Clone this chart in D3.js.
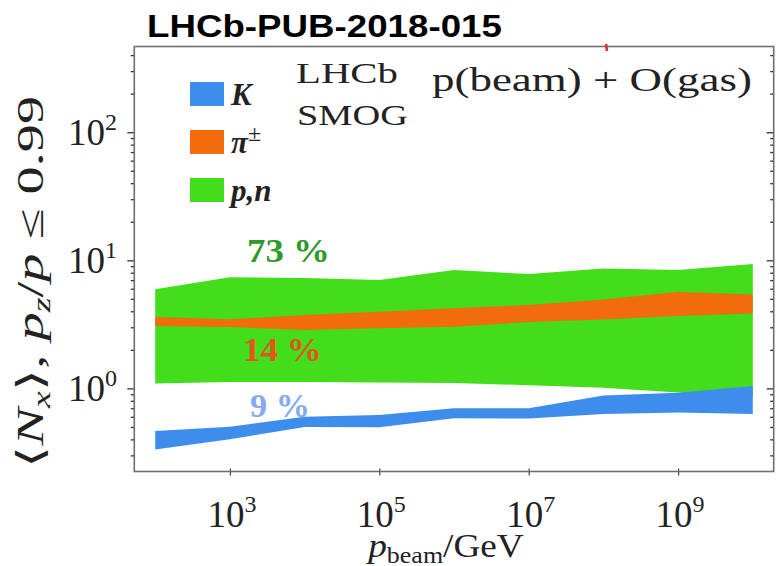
<!DOCTYPE html>
<html><head><meta charset="utf-8">
<script src="https://cdn.jsdelivr.net/npm/d3@7"></script>
<style>body{margin:0;background:#fff}</style>
</head><body>
<svg id="chart" width="781" height="566"></svg>
<script>
// Beam momentum grid (GeV), one point per decade
const pBeam = [1e2, 1e3, 1e4, 1e5, 1e6, 1e7, 1e8, 1e9, 1e10];
// Nucleons (p, n): band lower / upper edge of <N_x>
const nucleonLow  = [1.09, 1.12, 1.12, 1.11, 1.10, 1.06, 1.01, 0.93, 0.86];
const nucleonHigh = [5.94, 7.37, 7.27, 7.02, 8.40, 7.82, 8.63, 8.40, 9.36];
// Charged pions
const pionLow  = [3.07, 3.02, 2.86, 2.95, 3.03, 3.30, 3.45, 3.67, 3.84];
const pionHigh = [3.61, 3.46, 3.74, 3.97, 4.22, 4.48, 4.94, 5.66, 5.41];
// Kaons
const kaonLow  = [0.333, 0.401, 0.500, 0.497, 0.584, 0.582, 0.631, 0.648, 0.631];
const kaonHigh = [0.465, 0.502, 0.601, 0.620, 0.699, 0.699, 0.880, 0.926, 1.044];

const xTickValues = [1e3, 1e5, 1e7, 1e9];
const yMajorValues = [1, 10, 100];
const shareLabels = ["73 %", "14 %", "9 %"];
const legendNames = ["K", "π", "p,n"];

const colors = { nucleon: "#43dd1b", pion: "#f26b0c", kaon: "#3d8ded" };
const serif = "'Liberation Serif','Times New Roman',serif";
const sans = "'Liberation Sans',Arial,sans-serif";

const svg = d3.select("#chart");
const L = 134.3, R = 773.7, T = 46.5, B = 471.5;

const x = d3.scaleLog().domain([10 ** 1.72, 10 ** 10.28]).range([L, R]);
const y = d3.scaleLog().domain([0.2245, 467]).range([B, T]);

// stretch a text element horizontally to a given width, keeping its left edge
function fitLeft(sel, width) {
  const n = sel.node(), bb = n.getBBox();
  const s = width / bb.width;
  sel.attr("transform", `translate(${bb.x},0) scale(${s},1) translate(${-bb.x},0)`);
}

// bands
function band(lo, hi, color) {
  const rows = pBeam.map((p, i) => ({ p, lo: lo[i], hi: hi[i] }));
  const area = d3.area().x(d => x(d.p)).y0(d => y(d.lo)).y1(d => y(d.hi));
  svg.append("path").datum(rows).attr("d", area).attr("fill", color);
}
band(nucleonLow, nucleonHigh, colors.nucleon);
band(pionLow, pionHigh, colors.pion);
band(kaonLow, kaonHigh, colors.kaon);

// axes: left (outward ticks), right (inward ticks), bottom
const yAll = y.ticks(40).filter(v => v >= 0.2245 && v <= 467);
function yAxisTicks(axisGen, xpos, majorLen, minorLen) {
  const gMaj = svg.append("g").attr("transform", `translate(${xpos},0)`)
    .call(axisGen(y).tickValues(yMajorValues).tickSize(majorLen).tickFormat(""));
  const gMin = svg.append("g").attr("transform", `translate(${xpos},0)`)
    .call(axisGen(y).tickValues(yAll.filter(v => !yMajorValues.includes(v))).tickSize(minorLen).tickFormat(""));
  [gMaj, gMin].forEach(g => {
    g.select(".domain").remove();
    g.selectAll("line").attr("stroke", "#333").attr("stroke-width", 1.3);
  });
}
yAxisTicks(d3.axisLeft, L, 7, 3.5);
yAxisTicks(d3.axisRight, R, -7, -3.5);

const gx = svg.append("g").attr("transform", `translate(0,${B - 3})`)
  .call(d3.axisBottom(x).tickValues(xTickValues).tickSize(7).tickFormat(""));
gx.select(".domain").remove();
gx.selectAll("line").attr("stroke", "#444").attr("stroke-width", 1.2);

// frame
svg.append("rect").attr("x", L).attr("y", T).attr("width", R - L).attr("height", B - T)
  .attr("fill", "none").attr("stroke", "#6e6e6e").attr("stroke-width", 1.6);

// power-of-ten labels
function powerLabel(g, v, xp, yp, anchor) {
  const t = g.append("text").attr("x", xp).attr("y", yp).attr("text-anchor", anchor)
    .attr("font-family", serif).attr("font-size", 37).attr("fill", "#222");
  t.append("tspan").text("10");
  t.append("tspan").attr("dy", -15).attr("font-size", 24).text(Math.round(Math.log10(v)));
  return t;
}
const lab = svg.append("g");
yMajorValues.forEach(v => powerLabel(lab, v, 117, y(v) + 13, "end"));
xTickValues.forEach(v => powerLabel(lab, v, x(v) + 2, 527, "middle"));

// axis titles
const xt = svg.append("text").attr("x", 368).attr("y", 557)
  .attr("font-family", serif).attr("font-size", 33).attr("fill", "#222");
xt.append("tspan").attr("font-style", "italic").text("p");
xt.append("tspan").attr("dy", 6).attr("font-size", 23).text("beam");
xt.append("tspan").attr("dy", -6).text("/GeV");
fitLeft(xt, 158);

const ytG = svg.append("g").attr("transform", "translate(43,282) rotate(-90)");
const yt = ytG.append("text").attr("x", 0).attr("y", 0).attr("text-anchor", "middle")
  .attr("font-family", serif).attr("font-size", 37).attr("fill", "#222");
yt.append("tspan").text("⟨");
yt.append("tspan").attr("font-style", "italic").text("N");
yt.append("tspan").attr("font-style", "italic").attr("dy", 7).attr("font-size", 25).text("x");
yt.append("tspan").attr("dy", -7).text("⟩, ");
yt.append("tspan").attr("font-style", "italic").text("p");
yt.append("tspan").attr("font-style", "italic").attr("dy", 7).attr("font-size", 25).text("z");
yt.append("tspan").attr("dy", -7).text("/");
yt.append("tspan").attr("font-style", "italic").text("p");
yt.append("tspan").text(" ≤ 0.99");
{
  const w = yt.node().getBBox().width;
  yt.attr("transform", `scale(${370 / w},1)`);
}

// share labels on the bands
const shareStyle = [
  { x: 247, y: 262, w: 83, c: "#2f9a2c" },
  { x: 243, y: 361.5, w: 79, c: "#e2561b" },
  { x: 250, y: 417, w: 60, c: "#86a9ef" }
];
shareLabels.forEach((s, i) => {
  const st = shareStyle[i];
  const t = svg.append("text").attr("x", st.x).attr("y", st.y)
    .attr("font-family", serif).attr("font-size", 34).attr("font-weight", "bold")
    .attr("fill", st.c).text(s);
  fitLeft(t, st.w);
});

// legend
const legColors = [colors.kaon, colors.pion, colors.nucleon];
const legY = [82, 130, 178];
legendNames.forEach((name, i) => {
  svg.append("rect").attr("x", 190).attr("y", legY[i]).attr("width", 34).attr("height", 24)
    .attr("fill", legColors[i]);
  const t = svg.append("text").attr("x", 231).attr("y", legY[i] + 23)
    .attr("font-family", serif).attr("font-size", 31).attr("font-weight", "bold")
    .attr("font-style", "italic").attr("fill", "#222");
  t.append("tspan").text(name);
  if (name === "π") t.append("tspan").attr("dy", -12).attr("font-size", 24)
    .attr("font-style", "normal").attr("font-weight", "normal").text("±");
});

// experiment / system labels
const tl1 = svg.append("text").attr("x", 296).attr("y", 83).attr("font-family", serif)
  .attr("font-size", 30).attr("fill", "#222").text("LHCb");
fitLeft(tl1, 102);
const tl2 = svg.append("text").attr("x", 297).attr("y", 125).attr("font-family", serif)
  .attr("font-size", 30).attr("fill", "#222").text("SMOG");
fitLeft(tl2, 111);
const tl3 = svg.append("text").attr("x", 432).attr("y", 91).attr("font-family", serif)
  .attr("font-size", 33).attr("fill", "#222").text("p(beam) + O(gas)");
fitLeft(tl3, 320);

// small red mark on the top edge
svg.append("line").attr("x1", 606).attr("y1", 44).attr("x2", 607).attr("y2", 51)
  .attr("stroke", "#e3262a").attr("stroke-width", 2.5);

// document id
const title = svg.append("text").attr("x", 147).attr("y", 37).attr("font-family", sans)
  .attr("font-weight", "bold").attr("font-size", 31).attr("fill", "#000").text("LHCb-PUB-2018-015");
fitLeft(title, 355);
</script>
</body></html>
